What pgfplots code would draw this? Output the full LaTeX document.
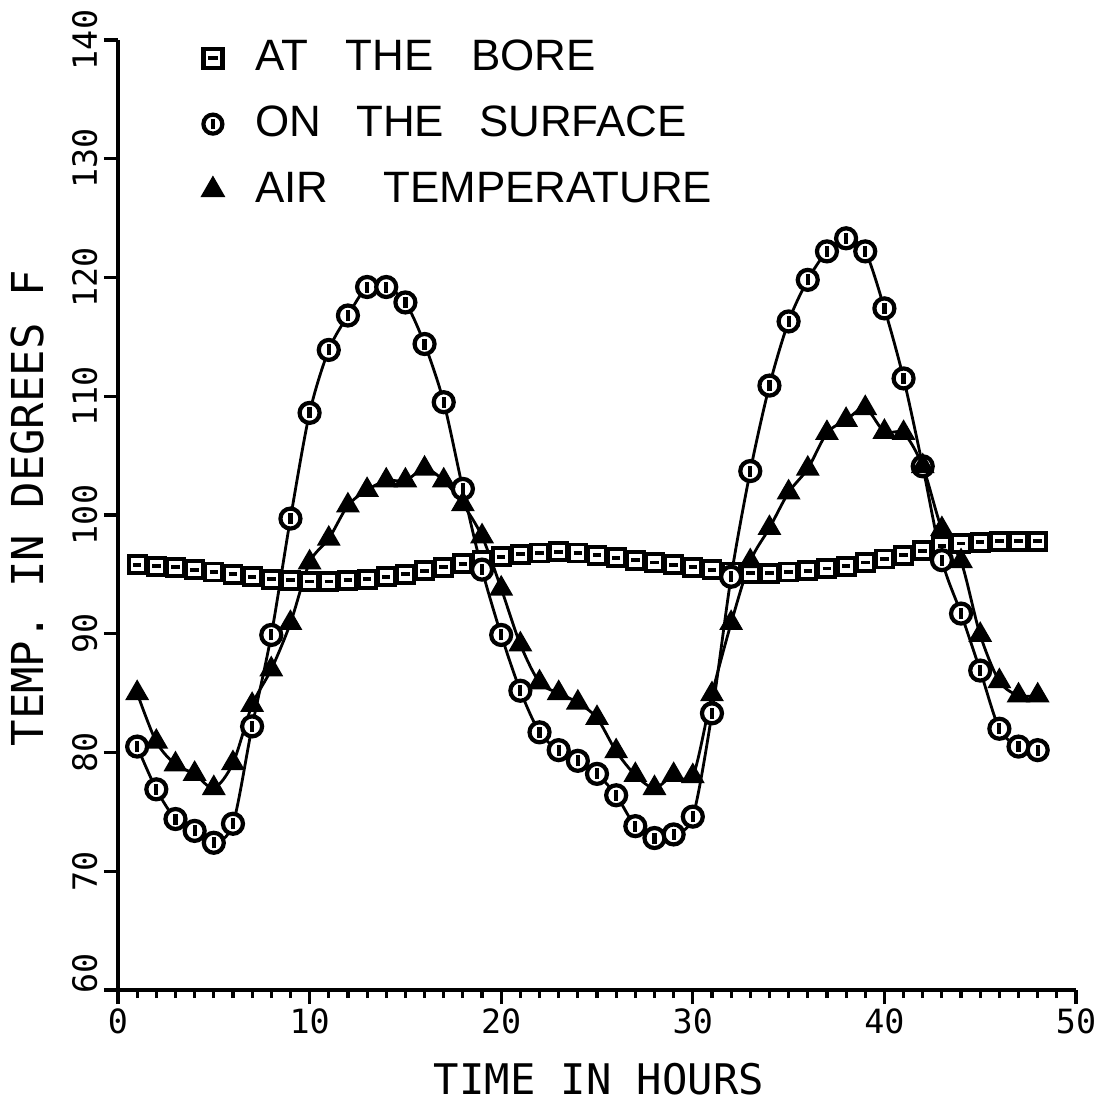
\documentclass[border=0pt]{standalone}
\usepackage{fontspec}
\setmainfont{Liberation Sans}
\newfontfamily\monofont{DejaVu Sans Mono}
\usepackage{pgfplots}
\pgfplotsset{compat=1.18}
\pgfdeclareplotmark{boxh}{%
  \pgfpathrectangle{\pgfpoint{-\pgfplotmarksize}{-\pgfplotmarksize}}{\pgfpoint{2\pgfplotmarksize}{2\pgfplotmarksize}}%
  \pgfusepathqfillstroke
  \pgfpathmoveto{\pgfpoint{-0.5\pgfplotmarksize}{0pt}}%
  \pgfpathlineto{\pgfpoint{0.5\pgfplotmarksize}{0pt}}%
  \pgfusepathqstroke}
\pgfdeclareplotmark{ophi}{%
  \pgfpathcircle{\pgfpointorigin}{\pgfplotmarksize}%
  \pgfusepathqfillstroke
  \pgfpathmoveto{\pgfpoint{0pt}{-0.55\pgfplotmarksize}}%
  \pgfpathlineto{\pgfpoint{0pt}{0.55\pgfplotmarksize}}%
  \pgfusepathqstroke}
\begin{document}
\begin{tikzpicture}
\useasboundingbox (-11.8mm,-10.9mm) rectangle (98.3mm,99mm);
\begin{axis}[
  scale only axis,
  width=95.8mm, height=95mm,
  xmin=0, xmax=50, ymin=60, ymax=140,
  axis lines*=left,
  axis line style={line width=1.1pt},
  xtick={0,10,...,50}, ytick={60,70,...,140},
  yticklabels={\hspace{3.4mm}60,70,80,90,100,110,120,130,140},
  minor x tick num=9,
  tick align=outside,
  major tick length=1.4mm, minor tick length=0.8mm,
  every tick/.style={line width=0.9pt, black},
  /pgf/number format/assume math mode=true,
  ticklabel style={font=\monofont\fontsize{9.5}{10}\selectfont},
  xticklabel style={inner sep=0pt, yshift=-0.4mm},
  yticklabel style={rotate=90, anchor=south, inner sep=0pt, yshift=0.6mm},
  xlabel={TIME IN HOURS},
  ylabel={TEMP. IN DEGREES F},
  x label style={font=\monofont\fontsize{12}{14}\selectfont, at={(axis description cs:0.502,0)}, anchor=north, inner sep=0pt, yshift=-7.2mm},
  y label style={font=\monofont\fontsize{12.5}{14}\selectfont, at={(axis description cs:0,0.507)}, anchor=south, inner sep=0pt, yshift=7.3mm},
  legend style={at={(axis description cs:0.0866,1.008)}, anchor=north west, draw=none, fill=none,
    font=\fontsize{12.5}{15}\selectfont, row sep=1.6mm, inner sep=0pt,
    /tikz/every odd column/.append style={column sep=2.4mm}},
  legend cell align=left,
  mark size=1mm,
]
\addlegendimage{only marks, mark=boxh, mark size=0.95mm, mark options={fill=white, line width=1.2pt}}
\addlegendentry{AT\hspace{0.86em}THE\hspace{0.86em}BORE}
\addlegendimage{only marks, mark=ophi, mark size=0.95mm, mark options={fill=white, line width=1.2pt}}
\addlegendentry{ON\hspace{0.8em}THE\hspace{0.8em}SURFACE}
\addlegendimage{only marks, mark=triangle*, mark size=1.3mm, mark options={fill=black}}
\addlegendentry{AIR\hspace{1.25em}TEMPERATURE}
\addplot[black, line width=0.8pt, smooth, forget plot, mark=boxh, mark size=0.85mm, mark options={fill=white, line width=1.1pt, solid}] coordinates {
(1,95.8)(2,95.7)(3,95.6)(4,95.4)(5,95.2)(6,95.0)(7,94.8)(8,94.6)(9,94.5)(10,94.4)
(11,94.4)(12,94.5)(13,94.6)(14,94.8)(15,95.0)(16,95.3)(17,95.6)(18,95.9)(19,96.2)(20,96.5)
(21,96.7)(22,96.8)(23,96.9)(24,96.8)(25,96.6)(26,96.4)(27,96.2)(28,96.0)(29,95.8)(30,95.6)
(31,95.4)(32,95.2)(33,95.1)(34,95.1)(35,95.2)(36,95.3)(37,95.5)(38,95.7)(39,96.0)(40,96.3)
(41,96.6)(42,97.0)(43,97.4)(44,97.6)(45,97.7)(46,97.8)(47,97.8)(48,97.8)};
\addplot[black, line width=0.8pt, smooth, forget plot, mark=ophi, mark size=1mm, mark options={fill=white, line width=1.2pt, solid}] coordinates {
(1,80.5)(2,76.9)(3,74.4)(4,73.4)(5,72.4)(6,74.0)(7,82.2)(8,89.9)(9,99.7)(10,108.6)
(11,113.9)(12,116.8)(13,119.2)(14,119.2)(15,117.9)(16,114.4)(17,109.5)(18,102.2)(19,95.4)(20,89.9)
(21,85.2)(22,81.7)(23,80.2)(24,79.3)(25,78.2)(26,76.4)(27,73.8)(28,72.8)(29,73.1)(30,74.6)
(31,83.3)(32,94.8)(33,103.7)(34,110.9)(35,116.3)(36,119.8)(37,122.2)(38,123.3)(39,122.2)(40,117.4)
(41,111.5)(42,104.1)(43,96.2)(44,91.7)(45,86.9)(46,82.0)(47,80.5)(48,80.2)};
\addplot[black, line width=0.8pt, smooth, forget plot, mark=triangle*, mark size=1.1mm, mark options={fill=black, solid}] coordinates {
(1,85.0)(2,80.9)(3,79.0)(4,78.2)(5,77.0)(6,79.1)(7,84.0)(8,87.0)(9,90.9)(10,96.0)
(11,98.0)(12,100.8)(13,102.1)(14,102.9)(15,102.9)(16,103.9)(17,102.9)(18,100.9)(19,98.2)(20,93.8)
(21,89.1)(22,85.9)(23,85.0)(24,84.2)(25,82.9)(26,80.1)(27,78.1)(28,77.0)(29,78.1)(30,78.0)
(31,84.9)(32,90.9)(33,96.1)(34,98.9)(35,101.9)(36,103.9)(37,106.9)(38,108.0)(39,109.0)(40,107.0)
(41,106.9)(42,104.1)(43,98.8)(44,96.1)(45,89.9)(46,86.0)(47,84.8)(48,84.8)};
\end{axis}
\end{tikzpicture}
\end{document}
